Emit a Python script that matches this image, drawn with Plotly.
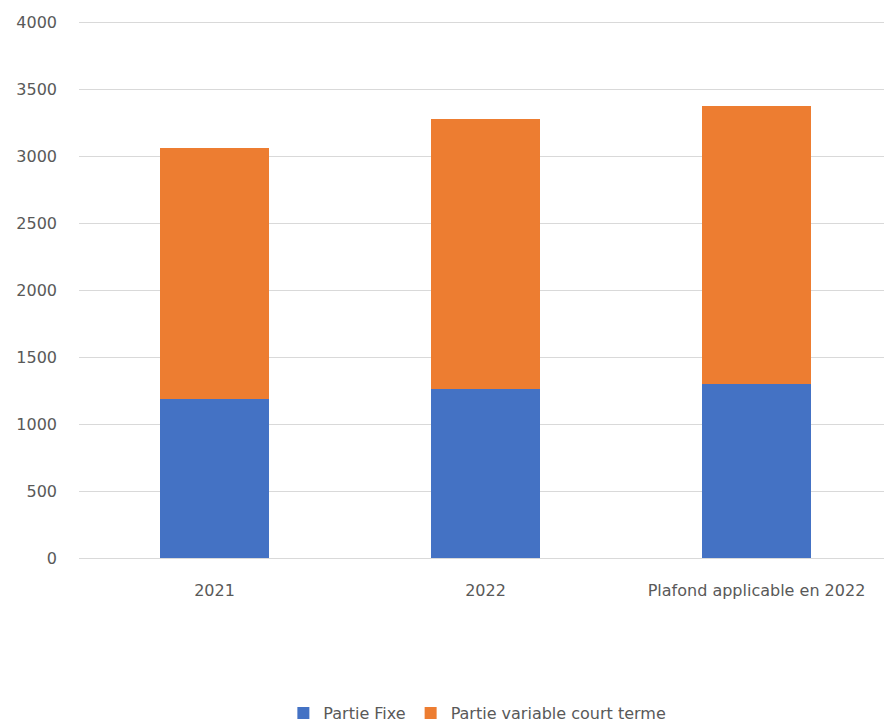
import plotly.graph_objects as go

# categories and stacked values
categories = ["2021", "2022", "Plafond applicable en 2022"]
partie_fixe = [1190, 1265, 1300]
partie_variable = [1870, 2015, 2070]

fig = go.Figure()

fig.add_trace(go.Bar(
    name="Partie Fixe",
    x=categories,
    y=partie_fixe,
    marker=dict(color="#4472C4", line=dict(width=0)),
))
fig.add_trace(go.Bar(
    name="Partie variable court terme",
    x=categories,
    y=partie_variable,
    marker=dict(color="#ED7D31", line=dict(width=0)),
))

# page body has an 8px margin, so the figure is sized to fit the window
fig.update_layout(
    barmode="stack",
    bargap=0.6,
    width=884,
    height=714,
    margin=dict(l=71, r=0, t=13, b=164, autoexpand=False),
    paper_bgcolor="white",
    plot_bgcolor="white",
    font=dict(family="DejaVu Sans, sans-serif", size=16, color="#595959"),
    showlegend=True,
    legend=dict(
        orientation="h",
        x=0.49, xanchor="center",
        y=-0.289, yanchor="middle",
        font=dict(size=16, color="#595959"),
        itemwidth=30,
        traceorder="normal",
    ),
    xaxis=dict(
        showgrid=False,
        showline=False,
        ticks="",
        automargin=False,
        ticklabelstandoff=21,
        tickfont=dict(size=16, color="#595959"),
    ),
    yaxis=dict(
        range=[0, 4008],
        tickvals=[0, 500, 1000, 1500, 2000, 2500, 3000, 3500, 4000],
        showgrid=True,
        gridcolor="#D9D9D9",
        gridwidth=1,
        zeroline=True,
        zerolinecolor="#D9D9D9",
        zerolinewidth=1,
        showline=False,
        ticks="",
        automargin=False,
        ticklabelstandoff=21,
        tickfont=dict(size=16, color="#595959"),
    ),
)

fig.write_html("out.html")
